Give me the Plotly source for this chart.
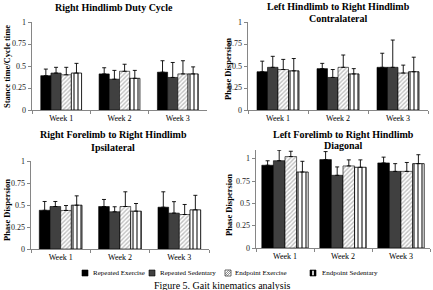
import plotly.graph_objects as go

W, H = 433, 290
FONT = "Liberation Serif"

weeks = ["Week 1", "Week 2", "Week 3"]
series = ["Repeated Exercise", "Repeated Sedentary", "Endpoint Exercise", "Endpoint Sedentary"]

duty_mean = {
    "Repeated Exercise": [0.39, 0.41, 0.43],
    "Repeated Sedentary": [0.42, 0.35, 0.37],
    "Endpoint Exercise": [0.40, 0.44, 0.41],
    "Endpoint Sedentary": [0.42, 0.36, 0.41],
}
duty_sd = {
    "Repeated Exercise": [0.075, 0.07, 0.13],
    "Repeated Sedentary": [0.065, 0.10, 0.17],
    "Endpoint Exercise": [0.085, 0.08, 0.15],
    "Endpoint Sedentary": [0.11, 0.09, 0.08],
}
contra_mean = {
    "Repeated Exercise": [0.435, 0.47, 0.485],
    "Repeated Sedentary": [0.485, 0.37, 0.485],
    "Endpoint Exercise": [0.46, 0.485, 0.42],
    "Endpoint Sedentary": [0.445, 0.41, 0.435],
}
contra_sd = {
    "Repeated Exercise": [0.12, 0.06, 0.16],
    "Repeated Sedentary": [0.125, 0.09, 0.31],
    "Endpoint Exercise": [0.115, 0.14, 0.09],
    "Endpoint Sedentary": [0.14, 0.06, 0.165],
}
ipsi_mean = {
    "Repeated Exercise": [0.44, 0.483, 0.475],
    "Repeated Sedentary": [0.483, 0.423, 0.408],
    "Endpoint Exercise": [0.438, 0.483, 0.392],
    "Endpoint Sedentary": [0.498, 0.43, 0.445],
}
ipsi_sd = {
    "Repeated Exercise": [0.10, 0.08, 0.175],
    "Repeated Sedentary": [0.057, 0.057, 0.13],
    "Endpoint Exercise": [0.056, 0.167, 0.114],
    "Endpoint Sedentary": [0.106, 0.087, 0.165],
}
diag_mean = {
    "Repeated Exercise": [0.929, 0.992, 0.955],
    "Repeated Sedentary": [0.98, 0.816, 0.86],
    "Endpoint Exercise": [1.026, 0.921, 0.86],
    "Endpoint Sedentary": [0.853, 0.906, 0.947],
}
diag_sd = {
    "Repeated Exercise": [0.05, 0.09, 0.065],
    "Repeated Sedentary": [0.118, 0.094, 0.087],
    "Endpoint Exercise": [0.06, 0.068, 0.10],
    "Endpoint Sedentary": [0.12, 0.083, 0.10],
}

ytick_vals = [0, 0.25, 0.5, 0.75, 1]
ytick_text = ["0", "0.25", "0.5", "0.75", "1"]


def px_x(x):
    return x / W


def px_y(y):
    return 1 - y / H


styles = {
    "Repeated Exercise": dict(color="#000000", line=dict(color="#000000", width=0.6)),
    "Repeated Sedentary": dict(color="#404040", line=dict(color="#000000", width=0.6)),
    "Endpoint Exercise": dict(color="#ffffff", line=dict(color="#000000", width=0.6),
                              pattern=dict(shape="/", fgcolor="#7f7f7f", bgcolor="#ffffff",
                                           size=3, solidity=0.45)),
    "Endpoint Sedentary": dict(color="#ffffff", line=dict(color="#000000", width=0.8),
                               pattern=dict(shape="|", fgcolor="#000000", bgcolor="#ffffff",
                                            size=4, solidity=0.5)),
}

panels = [
    dict(mean=duty_mean, sd=duty_sd, x0=32, x1=207, yt=22, yb=110, ymax=1.0, gw=0.70),
    dict(mean=contra_mean, sd=contra_sd, x0=248, x1=428, yt=22, yb=110, ymax=1.0, gw=0.70),
    dict(mean=ipsi_mean, sd=ipsi_sd, x0=31, x1=209, yt=161, yb=249, ymax=1.0, gw=0.72),
    dict(mean=diag_mean, sd=diag_sd, x0=256, x1=430, yt=150, yb=248, ymax=1.1, gw=0.80),
]

annotations = []


def add_text(text, x, y, size, bold=False, angle=0, xanchor="center", color="#000000"):
    annotations.append(dict(
        text=f"<b>{text}</b>" if bold else text, x=px_x(x), y=px_y(y),
        xref="paper", yref="paper", showarrow=False, textangle=angle,
        xanchor=xanchor, yanchor="middle",
        font=dict(family=FONT, size=size, color=color),
    ))


fig = go.Figure()
layout_axes = {}
for k, p in enumerate(panels, start=1):
    xa = "x" if k == 1 else f"x{k}"
    ya = "y" if k == 1 else f"y{k}"
    gw = p["gw"]
    bw = gw / 4
    for i, s in enumerate(series):
        fig.add_trace(go.Bar(
            x=weeks, y=p["mean"][s], name=s, showlegend=False,
            xaxis=xa, yaxis=ya,
            width=bw, offset=-gw / 2 + i * bw,
            marker=styles[s],
            error_y=dict(type="data", symmetric=False, array=p["sd"][s],
                         arrayminus=[0, 0, 0], color="#000000", thickness=0.9, width=2),
        ))
    xkey = "xaxis" if k == 1 else f"xaxis{k}"
    ykey = "yaxis" if k == 1 else f"yaxis{k}"
    layout_axes[xkey] = dict(
        domain=[px_x(p["x0"]), px_x(p["x1"])], anchor=ya, type="category",
        showline=True, linecolor="#868686", linewidth=1, ticks="outside",
        tickson="boundaries", ticklen=3, tickcolor="#868686", showgrid=False,
        tickfont=dict(family=FONT, size=8, color="#000000"), fixedrange=True,
        automargin=False,
    )
    layout_axes[ykey] = dict(
        domain=[px_y(p["yb"]), px_y(p["yt"])], anchor=xa, range=[0, p["ymax"]],
        type="linear", tickmode="array", tickvals=ytick_vals,
        showticklabels=False,
        showline=True, linecolor="#868686",
        linewidth=1, ticks="outside", ticklen=3, tickcolor="#868686", showgrid=False,
        zeroline=False, fixedrange=True, automargin=False,
    )
    # y tick labels, positioned along the panel's value scale
    for v, t in zip(ytick_vals, ytick_text):
        ypix = p["yb"] - v / p["ymax"] * (p["yb"] - p["yt"])
        annotations.append(dict(
            text=t, x=px_x(p["x0"] - 4), y=px_y(ypix), xref="paper", yref="paper",
            showarrow=False, xanchor="right", yanchor="middle",
            font=dict(family=FONT, size=8, color="#1a1a1a"),
        ))

fig.update_layout(**layout_axes)

add_text("Right Hindlimb Duty Cycle", 114, 7, 10, bold=True)
add_text("Left Hindlimb to Right Hindlimb", 338, 6, 10, bold=True)
add_text("Contralateral", 338, 18, 10, bold=True)
add_text("Right Forelimb to Right Hindlimb", 113, 135, 10, bold=True)
add_text("Ipsilateral", 113, 147, 10, bold=True)
add_text("Left Forelimb to Right Hindlimb", 343, 134, 10, bold=True)
add_text("Diagonal", 343, 145, 10, bold=True)

add_text("Stance time/Cycle time", 7, 67, 8.5, bold=True, angle=-90)
add_text("Phase Dispersion", 228, 69, 8.5, bold=True, angle=-90)
add_text("Phase Dispersion", 7, 210, 8.5, bold=True, angle=-90)
add_text("Phase Dispersion", 229, 205, 8.5, bold=True, angle=-90)

legend_text_x = [91, 158, 233, 320]
for s, lx in zip(series, legend_text_x):
    add_text(s, lx, 273, 7, xanchor="left")

add_text("Figure 5. Gait kinematics analysis", 222, 285, 10)

shapes = []
sw = 3
cy = 273


def rect(cx, fill, line="#000000", lw=0.6):
    shapes.append(dict(type="rect", xref="paper", yref="paper",
                       x0=px_x(cx - sw), x1=px_x(cx + sw), y0=px_y(cy + sw), y1=px_y(cy - sw),
                       fillcolor=fill, line=dict(color=line, width=lw)))


rect(85, "#000000")
rect(152, "#404040")
rect(228, "#ffffff", "#404040", 0.8)
for d in (-2, 0, 2):
    shapes.append(dict(type="line", xref="paper", yref="paper",
                       x0=px_x(228 - sw + max(0, d)), y0=px_y(cy + sw - max(0, -d)),
                       x1=px_x(228 + sw - max(0, -d)), y1=px_y(cy - sw + max(0, d)),
                       line=dict(color="#606060", width=0.7)))
rect(313, "#000000")
shapes.append(dict(type="rect", xref="paper", yref="paper",
                   x0=px_x(312.2), x1=px_x(313.8), y0=px_y(cy + sw - 0.7), y1=px_y(cy - sw + 0.7),
                   fillcolor="#ffffff", line=dict(width=0)))

fig.update_layout(
    width=W, height=H, margin=dict(l=0, r=0, t=0, b=0),
    paper_bgcolor="#ffffff", plot_bgcolor="#ffffff",
    barmode="group", showlegend=False,
    annotations=annotations, shapes=shapes,
    font=dict(family=FONT),
)

fig.write_html("out.html")
